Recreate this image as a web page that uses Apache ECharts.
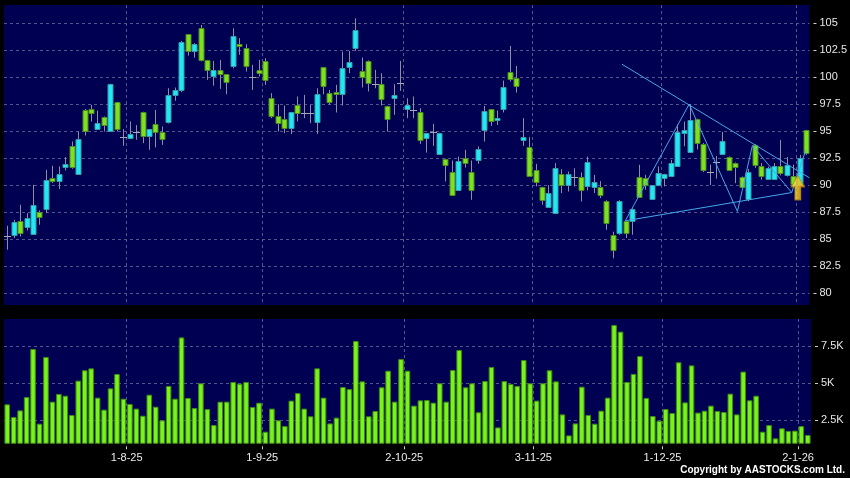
<!DOCTYPE html>
<html>
<head>
<meta charset="utf-8">
<script src="https://cdn.jsdelivr.net/npm/echarts@6/dist/echarts.min.js"></script>
<style>
html,body{margin:0;padding:0;background:#000;}
#chart{width:850px;height:478px;}
</style>
</head>
<body>
<div id="chart"></div>
<script>
const dates = [
'7-7-25','8-7-25','9-7-25','10-7-25','11-7-25','14-7-25','15-7-25','16-7-25','17-7-25','18-7-25','21-7-25','22-7-25','23-7-25','24-7-25','25-7-25','28-7-25','29-7-25','30-7-25','31-7-25',
'1-8-25','4-8-25','5-8-25','6-8-25','7-8-25','8-8-25','11-8-25','12-8-25','13-8-25','14-8-25','15-8-25','18-8-25','19-8-25','20-8-25','21-8-25','22-8-25','25-8-25','26-8-25','27-8-25','28-8-25','29-8-25',
'1-9-25','2-9-25','3-9-25','4-9-25','5-9-25','8-9-25','9-9-25','10-9-25','11-9-25','12-9-25','15-9-25','16-9-25','17-9-25','18-9-25','19-9-25','22-9-25','23-9-25','24-9-25','25-9-25','26-9-25','29-9-25','30-9-25',
'2-10-25','3-10-25','6-10-25','8-10-25','9-10-25','10-10-25','13-10-25','14-10-25','15-10-25','16-10-25','17-10-25','20-10-25','21-10-25','22-10-25','23-10-25','24-10-25','27-10-25','28-10-25','30-10-25','31-10-25',
'3-11-25','4-11-25','5-11-25','6-11-25','7-11-25','10-11-25','11-11-25','12-11-25','13-11-25','14-11-25','17-11-25','18-11-25','19-11-25','20-11-25','21-11-25','24-11-25','25-11-25','26-11-25','27-11-25','28-11-25',
'1-12-25','2-12-25','3-12-25','4-12-25','5-12-25','8-12-25','9-12-25','10-12-25','11-12-25','12-12-25','15-12-25','16-12-25','17-12-25','18-12-25','19-12-25','22-12-25','23-12-25','24-12-25','29-12-25','30-12-25','31-12-25',
'2-1-26','5-1-26'
];
const opens = [
85.31,85.40,86.67,86.11,85.46,87.50,87.78,90.62,90.34,91.67,
93.61,91.02,96.98,97.07,95.19,96.30,95.03,97.69,94.44,94.35,
94.94,96.76,94.50,95.65,94.91,95.80,98.33,98.76,103.98,102.44,
104.53,101.57,100.06,100.65,100.28,100.98,103.05,102.68,100.03,100.65,
101.51,98.05,96.36,96.11,95.28,97.44,96.67,96.67,95.80,100.92,
98.51,98.60,98.42,100.98,102.68,100.58,101.54,99.38,99.35,97.34,
98.05,99.50,97.03,96.94,96.76,94.35,94.90,92.87,92.40,91.26,
89.50,92.50,91.17,92.28,95.12,97.03,96.01,97.03,100.52,99.97,
94.26,93.52,91.42,89.82,88.02,87.40,91.00,89.98,90.74,90.71,
89.94,89.81,89.81,88.55,85.40,85.55,86.63,86.69,90.74,90.65,
88.70,89.97,90.65,90.86,91.75,94.87,93.06,96.10,93.83,91.20,
92.10,92.90,92.62,92.03,90.74,88.70,93.70,91.79,90.60,90.58,
91.80,90.98,90.88,90.03,95.12
];
const closes = [
85.31,86.57,85.56,86.94,88.15,87.01,90.46,90.34,91.02,91.98,
91.67,94.29,95.06,96.67,95.71,95.56,99.35,95.19,94.44,94.72,
94.94,94.50,95.18,94.91,94.26,98.33,98.79,103.24,102.37,103.05,
101.57,100.65,100.65,100.28,99.53,103.79,102.84,100.98,100.03,100.34,
99.72,96.36,95.74,95.28,96.76,96.67,96.67,96.67,98.42,99.13,
97.65,98.45,100.83,101.45,104.38,100.06,99.53,99.38,97.96,96.11,
98.36,99.50,97.44,96.94,94.20,94.81,94.90,94.81,91.85,89.16,
92.19,92.04,89.50,93.33,96.88,95.89,96.20,99.07,99.90,99.23,
94.50,90.81,90.34,88.64,89.29,91.57,89.94,91.00,90.74,89.50,
92.16,90.25,89.04,86.48,84.05,88.55,85.55,87.80,88.89,89.97,
89.97,91.11,91.02,92.03,94.88,95.12,96.00,93.85,91.40,91.20,
92.10,94.10,91.42,91.66,89.81,91.17,91.88,90.86,91.62,91.80,
91.11,91.90,90.12,92.55,92.98
];
const lows = [
84.01,85.09,85.25,85.80,85.40,86.33,87.41,90.19,89.63,91.36,
91.51,91.00,94.60,95.90,95.12,94.97,94.97,94.97,93.64,94.26,
94.20,93.89,93.27,93.49,93.73,95.71,97.81,98.61,102.00,101.82,
101.45,99.75,99.22,98.92,98.42,100.83,102.07,100.52,98.82,100.06,
99.29,96.20,94.97,94.82,94.73,95.90,96.20,95.74,94.73,98.42,
97.44,96.73,97.37,100.37,102.44,99.04,98.67,98.98,97.37,94.97,
96.51,98.73,96.20,96.20,93.82,93.02,93.64,92.85,90.34,89.10,
89.45,91.63,88.64,91.97,94.04,95.49,95.58,96.73,99.60,98.58,
93.64,90.80,89.88,88.18,87.90,87.38,89.26,89.41,89.87,88.48,
89.50,89.26,88.80,85.86,83.22,85.40,85.09,85.40,88.85,89.57,
88.65,89.90,89.88,90.74,91.70,93.60,93.00,93.30,91.20,90.00,
90.60,92.85,91.40,90.18,89.70,88.50,91.60,90.50,90.55,90.50,
90.90,90.80,89.90,89.90,92.80
];
const highs = [
86.23,86.79,88.18,87.41,90.03,87.65,91.42,91.79,91.73,92.59,
94.04,94.97,97.04,97.44,96.91,96.36,99.40,97.72,95.19,95.90,
95.56,96.80,95.20,96.97,95.43,98.98,99.04,103.36,104.00,103.15,
104.84,101.60,101.51,101.60,100.30,104.53,103.61,103.05,101.14,101.60,
101.76,98.52,97.50,97.37,96.78,98.21,98.36,97.44,98.98,100.95,
98.82,99.29,102.37,102.44,105.46,101.82,101.56,100.68,100.37,97.36,
99.35,101.51,98.05,98.21,97.13,94.85,95.68,94.85,92.45,92.28,
92.65,93.27,92.28,93.58,97.34,97.05,96.91,99.69,102.90,101.04,
96.20,94.44,91.97,89.85,90.00,92.04,91.48,91.26,91.57,91.17,
92.65,90.95,90.37,88.60,85.68,88.60,86.70,87.85,91.88,90.96,
90.00,91.73,91.05,92.34,95.60,95.89,97.50,96.15,93.90,91.90,
92.70,94.94,92.65,92.10,90.80,91.50,93.80,92.05,91.70,92.05,
94.19,92.60,91.90,92.80,95.12
];
const volumesK = [
3.56,2.70,3.15,4.05,7.30,2.25,6.76,3.74,4.26,4.14,
2.84,5.16,5.86,5.99,4.01,3.20,4.64,5.61,3.94,3.58,
3.27,2.79,4.21,3.40,2.48,4.80,3.94,8.08,3.99,3.31,
4.98,3.24,2.16,3.74,3.74,5.07,4.95,5.07,3.38,3.67,
1.71,3.27,2.48,2.09,3.81,4.32,3.27,2.75,5.99,4.01,
2.27,2.66,4.73,4.59,7.84,5.11,2.75,3.11,4.71,5.83,
3.74,6.62,5.83,3.47,3.83,3.85,3.67,4.98,3.74,5.88,
7.23,4.71,4.98,3.02,5.13,6.08,2.00,5.13,4.93,4.80,
6.55,4.98,3.81,4.98,5.86,5.11,2.88,1.46,2.27,4.75,
2.84,2.25,3.13,4.01,8.92,8.47,5.07,5.61,6.82,3.99,
2.77,2.45,3.24,2.97,6.40,3.69,6.19,3.00,3.13,3.47,
3.11,3.04,4.28,2.88,5.77,3.83,4.14,1.71,2.16,1.26,
1.94,1.76,1.78,2.09,1.49
];
const xTickLabels = ['1-8-25','1-9-25','2-10-25','3-11-25','1-12-25','2-1-26'];
const priceTicks = [80,82.5,85,87.5,90,92.5,95,97.5,100,102.5,105];
const volumeTicks = [2.5,5,7.5];
// drawn trend lines: [position on date axis (category index), price]
const resistanceLine = [[95.4,101.2],[124.5,90.67]];
const supportLine = [[95.92,86.69],[121.74,89.31]];
const zigzagLine = [[95.92,86.69],[105.83,97.5],[113.32,87.56],[115.64,93.67],[121.74,89.31],[123.9,93.2]];
const signalArrow = [[122.7,89.75]];

const NAVY = '#000052';
const CYAN = '#22e6f2', CYAN_EDGE = '#3a9aa8';
const GREEN = '#7ee020', GREEN_EDGE = '#4d8a22';
const WICK = '#8e8e9e';
const GRIDC = '#55558c';
const LINEC = '#45a8ea';
const FONT = 'Liberation Sans, Arial, sans-serif';

const candleData = dates.map((d, i) => [i, opens[i], closes[i], lows[i], highs[i]]);
// month boundaries on the continuous date axis (left edge of the first session of the month)
const monthBounds = xTickLabels.map((l) => dates.indexOf(l) - 0.5);
const xMin = -0.5, xMax = dates.length - 0.5;

function renderCandle(params, api) {
  const i = api.value(0);
  const o = api.value(1), c = api.value(2), lo = api.value(3), hi = api.value(4);
  const pHi = api.coord([i, hi]), pLo = api.coord([i, lo]);
  const pO = api.coord([i, o]), pC = api.coord([i, c]);
  const bw = Math.round(api.size([1, 0])[0] * 0.84);
  const x = Math.round(pHi[0]) + 0.5;
  const children = [{
    type: 'line',
    shape: {x1: x, y1: pHi[1], x2: x, y2: pLo[1]},
    style: {stroke: WICK, lineWidth: 1}
  }];
  if (o === c) {
    const y = Math.round(pO[1]) + 0.5;
    children.push({type: 'line', shape: {x1: x - bw / 2 - 1, y1: y, x2: x + bw / 2 + 1, y2: y},
      style: {stroke: '#a8a8b4', lineWidth: 1}});
  } else {
    const up = c > o;
    const top = Math.round(Math.min(pO[1], pC[1])) + 0.5;
    const h = Math.max(Math.round(Math.abs(pO[1] - pC[1])), 2);
    children.push({type: 'rect', shape: {x: x - bw / 2, y: top, width: bw, height: h},
      style: {fill: up ? CYAN : GREEN, stroke: up ? CYAN_EDGE : GREEN_EDGE, lineWidth: 1}});
  }
  return {type: 'group', children};
}

const gridLineStyle = {color: GRIDC, type: [3, 3], width: 1};
const chart = echarts.init(document.getElementById('chart'), null, {renderer: 'canvas'});
const option = {
  backgroundColor: '#000',
  animation: false,
  grid: [
    {left: 4, top: 5, width: 807, height: 300, show: true, backgroundColor: NAVY, borderWidth: 0},
    {left: 4, top: 319, width: 807, height: 124.3, show: true, backgroundColor: NAVY, borderWidth: 0}
  ],
  xAxis: [
    {type: 'category', gridIndex: 0, position: 'top', data: dates, boundaryGap: true, show: false},
    {type: 'category', gridIndex: 1, position: 'top', data: dates, boundaryGap: true, show: false},
    {type: 'value', gridIndex: 0, position: 'bottom', min: xMin, max: xMax,
     axisLine: {show: false, onZero: false}, axisLabel: {show: false},
     axisTick: {show: false, customValues: monthBounds},
     splitLine: {show: true, lineStyle: gridLineStyle}},
    {type: 'value', gridIndex: 1, position: 'bottom', min: xMin, max: xMax, offset: 3,
     axisLine: {show: false, onZero: false},
     axisTick: {show: true, length: 3, customValues: monthBounds, lineStyle: {color: '#cfcfcf'}},
     axisLabel: {customValues: monthBounds, color: '#ececec', fontSize: 11, fontFamily: FONT, margin: 6,
                 formatter: (v) => dates[Math.round(v + 0.5)]},
     splitLine: {show: true, lineStyle: gridLineStyle}}
  ],
  yAxis: [
    {type: 'value', gridIndex: 0, position: 'right', min: 78.89, max: 106.69, offset: 4, scale: true,
     axisLine: {show: false, onZero: false},
     axisTick: {show: true, length: 3, customValues: priceTicks, lineStyle: {color: '#cfcfcf'}},
     axisLabel: {customValues: priceTicks, color: '#e6e6e6', fontSize: 11, fontFamily: FONT, margin: 6,
                 formatter: (v) => String(v)},
     splitLine: {show: true, lineStyle: gridLineStyle}},
    {type: 'value', gridIndex: 1, position: 'right', min: 0.926, max: 9.324, offset: 4, scale: true,
     axisLine: {show: false, onZero: false},
     axisTick: {show: true, length: 3, customValues: volumeTicks, lineStyle: {color: '#cfcfcf'}},
     axisLabel: {customValues: volumeTicks, color: '#e6e6e6', fontSize: 11, fontFamily: FONT, margin: 6,
                 formatter: (v) => v + 'K'},
     splitLine: {show: true, lineStyle: gridLineStyle}}
  ],
  series: [
    {type: 'custom', xAxisIndex: 0, yAxisIndex: 0, data: candleData, renderItem: renderCandle,
     encode: {x: 0, y: [1, 2, 3, 4]}, z: 2},
    {type: 'bar', xAxisIndex: 1, yAxisIndex: 1, data: volumesK, barCategoryGap: '14%',
     itemStyle: {color: '#7af21c', borderColor: '#3e8a12', borderWidth: 1}, z: 2},
    {type: 'line', xAxisIndex: 2, yAxisIndex: 0, data: resistanceLine, showSymbol: false, symbol: 'none',
     lineStyle: {color: LINEC, width: 1}, z: 3},
    {type: 'line', xAxisIndex: 2, yAxisIndex: 0, data: supportLine, showSymbol: false, symbol: 'none',
     lineStyle: {color: LINEC, width: 1}, z: 3},
    {type: 'line', xAxisIndex: 2, yAxisIndex: 0, data: zigzagLine, showSymbol: false, symbol: 'none',
     lineStyle: {color: LINEC, width: 1}, z: 3},
    {type: 'scatter', xAxisIndex: 2, yAxisIndex: 0, data: signalArrow,
     symbol: 'path://M6.5,0 L13,11 L9.5,11 L9.5,24 L3.5,24 L3.5,11 L0,11 Z', symbolSize: [13, 24],
     itemStyle: {
       color: new echarts.graphic.LinearGradient(0, 0, 1, 0, [
         {offset: 0, color: '#fff48a'}, {offset: 0.5, color: '#ffd21a'}, {offset: 1, color: '#f0a000'}]),
       borderColor: '#c08800', borderWidth: 1
     }, z: 5}
  ],
  graphic: [
    {type: 'text', right: 5, top: 465,
     style: {text: 'Copyright by AASTOCKS.com Ltd.', fill: '#ffffff', font: 'bold 10px ' + FONT}}
  ]
};
chart.setOption(option);
</script>
</body>
</html>
